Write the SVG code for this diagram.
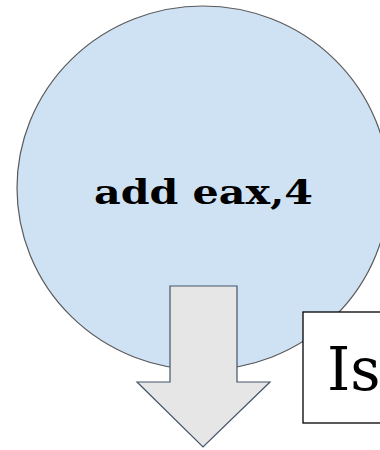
<svg xmlns="http://www.w3.org/2000/svg" width="380" height="450" viewBox="0 0 380 450">
  <style>
    .node-shape { fill: #cfe2f3; stroke: #595959; stroke-width: 1.2; }
    .node-label { font-family: "DejaVu Serif", "Liberation Serif", serif; font-weight: bold; fill: #000; }
    .block-arrow { fill: #e6e6e6; stroke: #44546a; stroke-width: 1.2; stroke-linejoin: miter; }
    .label-box { fill: #fff; stroke: #000; stroke-width: 1.3; }
    .box-label { font-family: "DejaVu Serif", "Liberation Serif", serif; fill: #000; }
  </style>

  <!-- instruction node -->
  <g id="node-add">
    <ellipse class="node-shape" cx="203" cy="188" rx="186" ry="182"/>
    <text class="node-label" x="203.5" y="204" font-size="33" text-anchor="middle" textLength="219" lengthAdjust="spacingAndGlyphs">add eax,4</text>
  </g>

  <!-- flow arrow leaving the node -->
  <g id="connectors">
    <path class="block-arrow" d="M170 286 H237 V382 H270 L203 447 L137 382 H170 Z"/>
  </g>

  <!-- question box at the right edge -->
  <g id="node-is">
    <rect class="label-box" x="303" y="312" width="90" height="111"/>
    <text class="box-label" x="327" y="390" font-size="59">Is</text>
  </g>
</svg>
